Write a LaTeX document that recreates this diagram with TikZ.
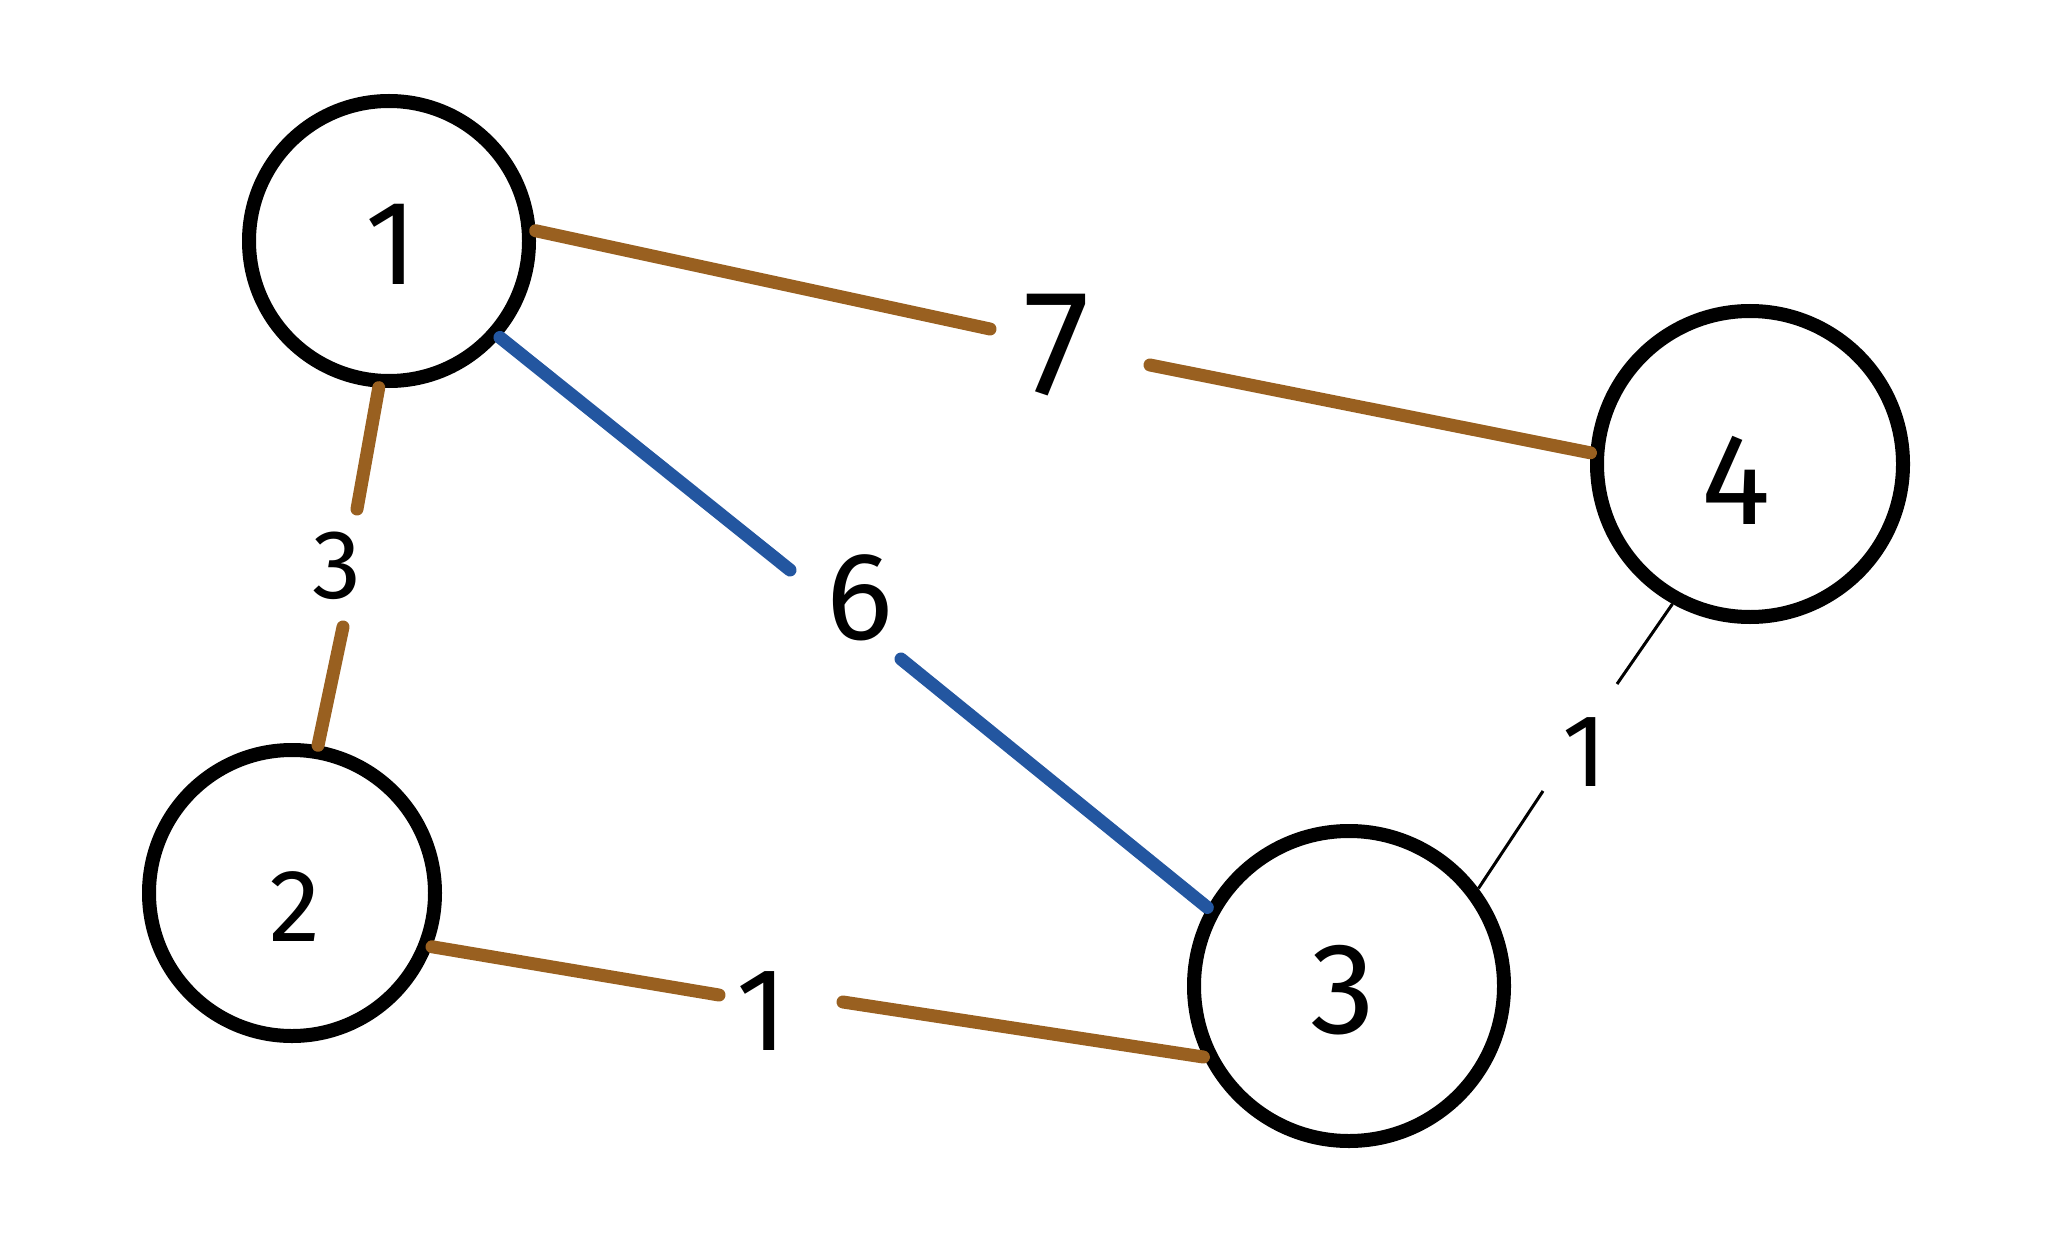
\documentclass[tikz,border=0pt]{standalone}
\usepackage{fontspec}
\setmainfont{Fira Sans}
\definecolor{edgebrown}{RGB}{153,96,32}
\definecolor{edgeblue}{RGB}{35,86,160}
\newcommand{\shiftedtext}[3]{\raisebox{#2}[\height][\depth]{\hspace*{#1}#3\hspace*{-#1}}}
\tikzset{
  vertex/.style={circle, draw=black, line width=14pt, fill=white, inner sep=0pt},
  numtext/.style={font=\fontsize{#1}{#1}\selectfont, inner sep=0pt},
  brownedge/.style={draw=edgebrown, line width=13pt, line cap=round},
  blueedge/.style={draw=edgeblue, line width=13pt, line cap=round},
  thinedge/.style={draw=black, line width=3pt},
}
\begin{document}
\begin{tikzpicture}[x=1pt,y=-1pt]
\useasboundingbox (0,0) rectangle (2052,1246);

% vertices
\node[vertex, minimum size=280pt, numtext=120] (n1) at (389,241) {\shiftedtext{2pt}{-3pt}{1}};
\node[vertex, minimum size=286pt, numtext=103] (n2) at (292,893) {\shiftedtext{3pt}{-14pt}{2}};
\node[vertex, minimum size=310pt, numtext=130] (n3) at (1349,986) {\shiftedtext{-6pt}{-4pt}{3}};
\node[vertex, minimum size=306pt, numtext=130] (n4) at (1750,464) {\shiftedtext{-14pt}{-16pt}{4}};

% edge labels
\node[numtext=150] (l7) at (1057,345) {7};
\node[numtext=98]  (l3) at (337,566) {3};
\node[numtext=125] (l6) at (860,598) {6};
\node[numtext=118] (l1a) at (762,1011) {1};
\node[numtext=103] (l1b) at (1585,752) {1};

% gap ends
\coordinate (g7a) at (990,329);
\coordinate (g7b) at (1150,365);
\coordinate (g3a) at (357,509);
\coordinate (g3b) at (343,627);
\coordinate (g6a) at (790,570);
\coordinate (g6b) at (901,659);
\coordinate (g1a) at (719,995);
\coordinate (g1b) at (843,1002);
\coordinate (g1c) at (1617,684);
\coordinate (g1d) at (1543,791);

% edges
\draw[brownedge] (n1.4) -- (g7a);
\draw[brownedge] (g7b) -- (n4.176);
\draw[brownedge] (n1.266) -- (g3a);
\draw[brownedge] (g3b) -- (n2.80);
\draw[blueedge] (n1.319) -- (g6a);
\draw[blueedge] (g6b) -- (n3.151);
\draw[brownedge] (n2.339) -- (g1a);
\draw[brownedge] (g1b) -- (n3.206);
\draw[thinedge] (n4.241) -- (g1c);
\draw[thinedge] (g1d) -- (n3.37.5);
\end{tikzpicture}
\end{document}
